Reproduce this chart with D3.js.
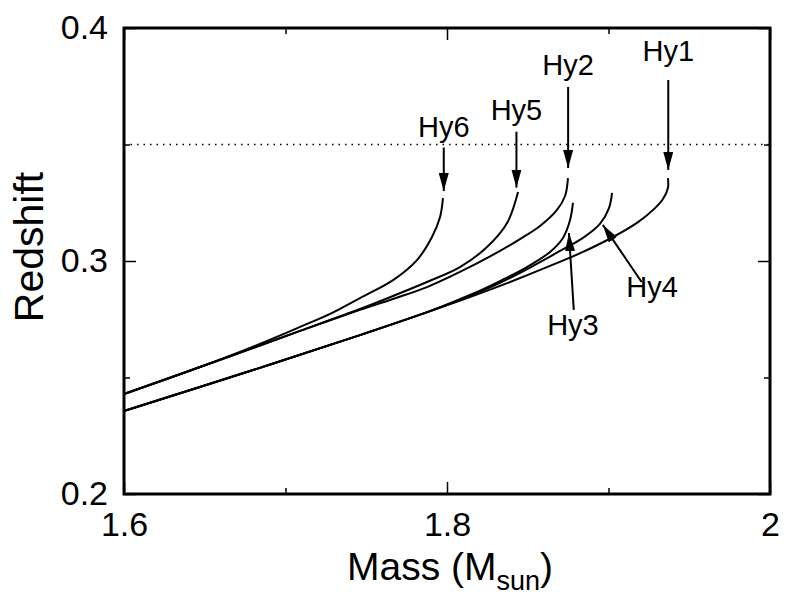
<!DOCTYPE html>
<html>
<head>
<meta charset="utf-8">
<script src="https://cdn.jsdelivr.net/npm/d3@7"></script>
<style>
  body { margin: 0; background: #fff; }
  svg text { font-family: "Liberation Sans", Arial, Helvetica, sans-serif; fill: #000; }
</style>
</head>
<body>
<div id="graph"></div>
<script>
// mass (M_sun) vs redshift
var hy1 = [[1.600,0.2356],[1.678,0.2528],[1.7461,0.2682],[1.7895,0.2785],[1.8142,0.2845],[1.8328,0.2893],[1.8638,0.2979],[1.8842,0.3039],[1.9028,0.3103],[1.9183,0.3167],[1.9288,0.3227],[1.9337,0.3266],[1.9368,0.3313],[1.9368,0.3356]];
var hy2 = [[1.600,0.2429],[1.6471,0.2545],[1.678,0.2622],[1.709,0.2700],[1.7461,0.2790],[1.7666,0.2837],[1.7876,0.2888],[1.808,0.2953],[1.8328,0.3043],[1.8452,0.3094],[1.8576,0.3150],[1.8681,0.3219],[1.8731,0.3279],[1.8749,0.3356]];
var hy3 = [[1.600,0.2356],[1.678,0.2528],[1.7461,0.2682],[1.7895,0.2785],[1.8142,0.2854],[1.8328,0.2914],[1.8495,0.2974],[1.8638,0.3039],[1.8718,0.3099],[1.8762,0.3176],[1.878,0.3249]];
var hy4 = [[1.600,0.2356],[1.678,0.2528],[1.7461,0.2682],[1.7895,0.2785],[1.8142,0.2850],[1.8328,0.2906],[1.8533,0.2979],[1.870,0.3043],[1.8842,0.3099],[1.8947,0.3159],[1.9003,0.3227],[1.9022,0.3292]];
var hy5 = [[1.600,0.2429],[1.6471,0.2545],[1.678,0.2622],[1.709,0.2700],[1.7461,0.2794],[1.7666,0.2850],[1.7876,0.2910],[1.808,0.2974],[1.8248,0.3060],[1.8372,0.3163],[1.844,0.3296]];
var hy6 = [[1.600,0.2429],[1.6471,0.2545],[1.678,0.2627],[1.709,0.2717],[1.7276,0.2773],[1.7461,0.2841],[1.7666,0.2918],[1.7814,0.3004],[1.7907,0.3103],[1.7957,0.3189],[1.7975,0.3270]];
var seriesNames = ["Hy1","Hy2","Hy3","Hy4","Hy5","Hy6"];
var seriesData = [hy1, hy2, hy3, hy4, hy5, hy6];
// labels: [name, label x, label y, arrow from x, from y, arrow to x, to y] in data units
var labelPos = [
  ["Hy1", 1.937, 0.3858, 1.937, 0.3777, 1.937, 0.3391],
  ["Hy2", 1.875, 0.3798, 1.875, 0.3747, 1.875, 0.3399],
  ["Hy3", 1.878, 0.2682, 1.8785, 0.2790, 1.8755, 0.3120],
  ["Hy4", 1.927, 0.2846, 1.9205, 0.2910, 1.8965, 0.3155],
  ["Hy5", 1.843, 0.3606, 1.843, 0.3555, 1.843, 0.3315],
  ["Hy6", 1.798, 0.3533, 1.798, 0.3487, 1.798, 0.3300]
];
var refLine = 0.35;
var xMajor = [1.6, 1.8, 2.0], xMinor = [1.7, 1.9];
var yMajor = [0.2, 0.3, 0.4], yMinor = [0.25, 0.35];

var width = 786, height = 598;
var padding = {top: 28, right: 16, bottom: 104, left: 124};

var graph = d3.select("div#graph")
  .append("svg")
  .attr("width", width)
  .attr("height", height);

var xScale = d3.scaleLinear()
  .range([padding.left, width - padding.right])
  .domain([1.6, 2.0]);
var yScale = d3.scaleLinear()
  .range([height - padding.bottom, padding.top])
  .domain([0.2, 0.4]);

var fmt = function(d) { return d === 2 ? "2" : d3.format(".1f")(d); };

// dotted reference line at 0.35
graph.append("line")
  .attr("x1", xScale(1.6)).attr("x2", xScale(2.0))
  .attr("y1", yScale(refLine)).attr("y2", yScale(refLine))
  .attr("stroke", "#000")
  .attr("stroke-width", 1.4)
  .attr("stroke-dasharray", "1.5,5");

// ticks (inward) on all four sides
function tickAxis(axis, vals, size, labels, pad) {
  return axis.tickValues(vals).tickSize(-size).tickPadding(pad)
    .tickFormat(labels ? fmt : "");
}
var bottomY = height - padding.bottom, rightX = width - padding.right;

var ax = [
  [d3.axisBottom(xScale), `translate(0,${bottomY})`, xMajor, 12, true, 18],
  [d3.axisBottom(xScale), `translate(0,${bottomY})`, xMinor, 6, false, 0],
  [d3.axisTop(xScale), `translate(0,${padding.top})`, xMajor, 12, false, 0],
  [d3.axisTop(xScale), `translate(0,${padding.top})`, xMinor, 6, false, 0],
  [d3.axisLeft(yScale), `translate(${padding.left},0)`, yMajor, 12, true, 16],
  [d3.axisLeft(yScale), `translate(${padding.left},0)`, yMinor, 6, false, 0],
  [d3.axisRight(yScale), `translate(${rightX},0)`, yMajor, 12, false, 0],
  [d3.axisRight(yScale), `translate(${rightX},0)`, yMinor, 6, false, 0]
];
ax.forEach(function(a) {
  var g = graph.append("g")
    .attr("class", "axis")
    .attr("transform", a[1])
    .call(tickAxis(a[0], a[2], a[3], a[4], a[5]));
  g.select(".domain").remove();
  g.selectAll("line").attr("stroke", "#000").attr("stroke-width", 1.5);
  g.selectAll("text").style("font-size", "34px").attr("fill", "#000");
});

// frame
graph.append("rect")
  .attr("x", padding.left).attr("y", padding.top)
  .attr("width", rightX - padding.left)
  .attr("height", bottomY - padding.top)
  .attr("fill", "none")
  .attr("stroke", "#000")
  .attr("stroke-width", 3);

var line = d3.line()
  .curve(d3.curveCatmullRom.alpha(0.5))
  .x(d => xScale(d[0]))
  .y(d => yScale(d[1]));

for (let i = 0; i < seriesData.length; i++) {
  graph.append("path").datum(seriesData[i])
    .attr("class", "line_class")
    .attr("id", seriesNames[i])
    .attr("fill", "none")
    .attr("stroke", "#000")
    .attr("stroke-width", 2)
    .attr("stroke-linejoin", "round")
    .attr("d", line);
}

// arrow marker
graph.append("defs").append("marker")
  .attr("id", "arrow")
  .attr("viewBox", "0 0 18 10")
  .attr("refX", 18).attr("refY", 5)
  .attr("markerWidth", 18).attr("markerHeight", 10)
  .attr("markerUnits", "userSpaceOnUse")
  .attr("orient", "auto")
  .append("path")
  .attr("d", "M0,0 L18,5 L0,10 Z")
  .attr("fill", "#000");

labelPos.forEach(function(l) {
  graph.append("line")
    .attr("x1", xScale(l[3])).attr("y1", yScale(l[4]))
    .attr("x2", xScale(l[5])).attr("y2", yScale(l[6]))
    .attr("stroke", "#000")
    .attr("stroke-width", 2)
    .attr("marker-end", "url(#arrow)");
  graph.append("text")
    .attr("x", xScale(l[1]))
    .attr("y", yScale(l[2]))
    .style("text-anchor", "middle")
    .style("font-size", "29px")
    .text(l[0]);
});

// axis titles
var xt = graph.append("text")
  .attr("x", 450)
  .attr("y", 580)
  .style("text-anchor", "middle")
  .style("font-size", "39px");
xt.append("tspan").text("Mass (M");
xt.append("tspan").attr("dy", 10).style("font-size", "27px").text("sun");
xt.append("tspan").attr("dy", -10).text(")");

graph.append("text")
  .attr("transform", `translate(43,${(padding.top + bottomY) / 2 - 14}) rotate(-90)`)
  .style("text-anchor", "middle")
  .style("font-size", "41px")
  .text("Redshift");
</script>
</body>
</html>
